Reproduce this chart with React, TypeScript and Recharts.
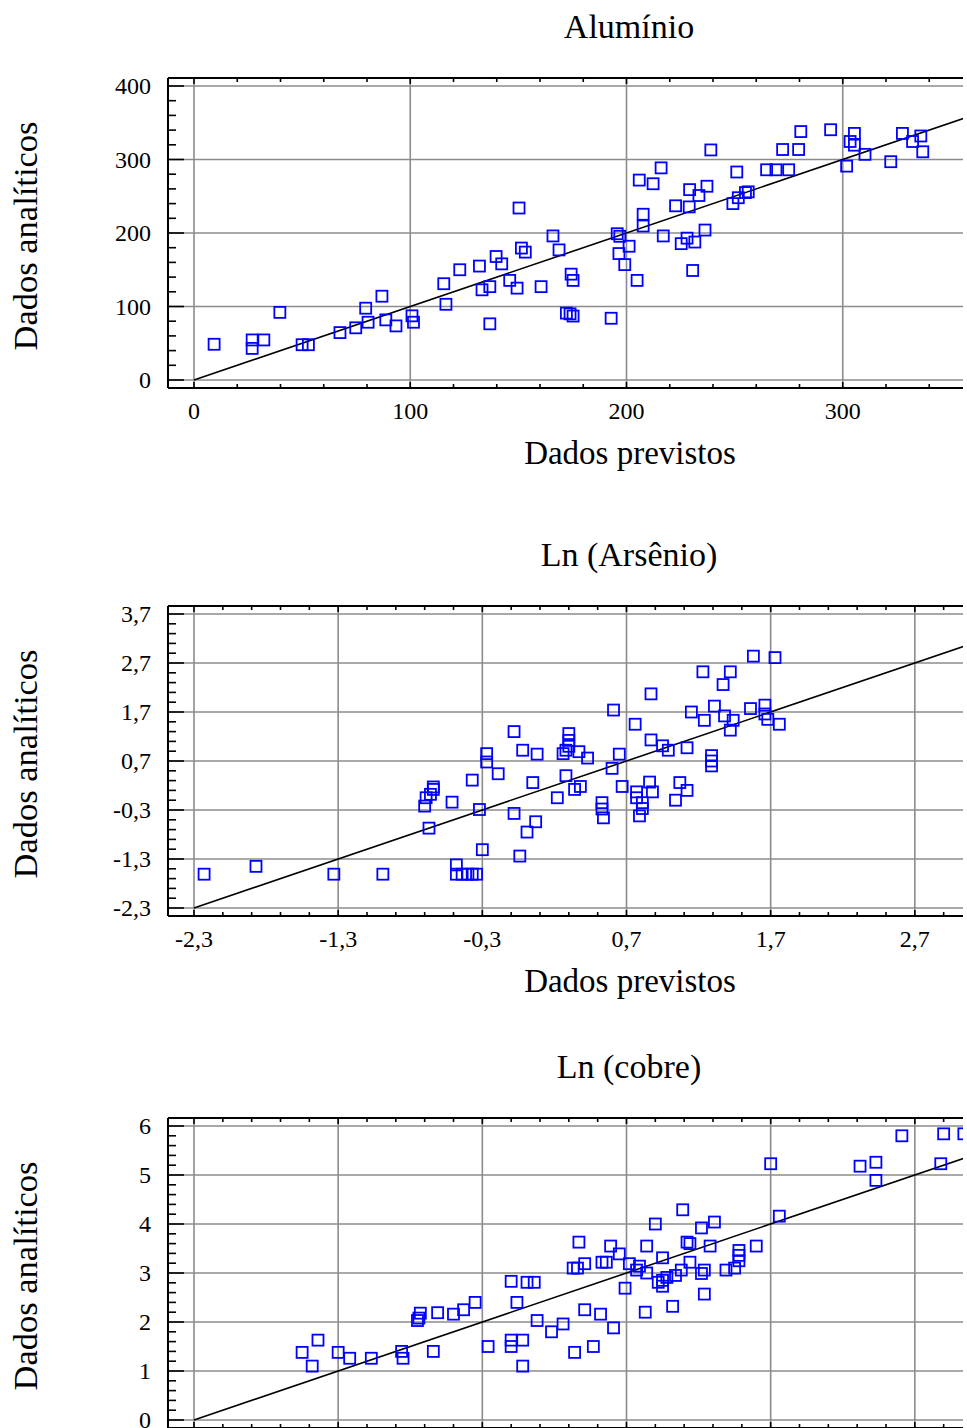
import React from "react"
import { ScatterChart, Scatter, XAxis, YAxis, CartesianGrid, ReferenceLine } from "recharts"

// [previsto, analítico]
const aluminio: [number, number][] = [
  [9.3, 48.6], [26.9, 54.5], [26.9, 43], [32.3, 54.5], [39.7, 92], [50, 48], [52.9, 48],
  [67.5, 64.5], [74.8, 71], [79.4, 97.7], [80.5, 78.6], [86.9, 114], [88.7, 81.8], [93.4, 73.6],
  [100.8, 87.3], [101.5, 78.6], [115.5, 131], [116.5, 103], [122.9, 150], [132, 155], [133.2, 122.7],
  [136.8, 127], [136.8, 76.4], [139.7, 168], [142.3, 158], [146, 135.5], [149.4, 125], [150.3, 234],
  [151.4, 179.5], [153.2, 174], [160.5, 127], [166, 196], [168.8, 177], [174.4, 144], [175.3, 135.5],
  [172.2, 91], [173.9, 90], [175.3, 87], [192.9, 84], [195.7, 199], [196.9, 195.5], [196.5, 172],
  [199.2, 157], [201.2, 182], [204.9, 135.5], [207.7, 225.5], [207.7, 209.5], [205.9, 272], [212.3, 267],
  [216, 288.6], [217, 196], [222.7, 237], [225.3, 185.5], [228, 193], [229, 235.5], [229.2, 259],
  [231.6, 187.7], [233.5, 251], [236.3, 204], [237.2, 263.6], [239, 313], [230.6, 149], [249.2, 240],
  [251.7, 248], [255, 255], [256.3, 256], [251, 283], [264.8, 286], [269.1, 286], [275, 286],
  [272.2, 313.6], [279.6, 313.6], [280.6, 338], [294.4, 340.5], [301.8, 291], [303.4, 324.5],
  [305.4, 335.5], [305.4, 319.5], [310.3, 307], [322.2, 297], [327.6, 335.5], [332.3, 324.5],
  [336.1, 332], [337, 310.5],
]

const arsenio: [number, number][] = [
  [-2.23, -1.61], [-1.87, -1.45], [-1.33, -1.61], [-0.99, -1.61], [-0.7, -0.22], [-0.69, -0.05],
  [-0.66, 0.02], [-0.64, 0.17], [-0.64, 0.12], [-0.67, -0.67], [-0.51, -0.14], [-0.48, -1.42],
  [-0.48, -1.61], [-0.44, -1.61], [-0.4, -1.61], [-0.37, -1.61], [-0.34, -1.61], [-0.37, 0.31],
  [-0.32, -0.29], [-0.3, -1.11], [-0.27, 0.85], [-0.27, 0.68], [-0.19, 0.44], [-0.08, 1.3],
  [-0.08, -0.37], [-0.04, -1.24], [-0.02, 0.92], [0.08, 0.84], [0.05, 0.26], [0.07, -0.54],
  [0.01, -0.75], [0.22, -0.05], [0.26, 0.85], [0.28, 0.92], [0.3, 1.0], [0.3, 1.12], [0.3, 1.26],
  [0.28, 0.4], [0.34, 0.12], [0.38, 0.18], [0.37, 0.89], [0.43, 0.76], [0.53, -0.15], [0.53, -0.28],
  [0.54, -0.46], [0.6, 0.55], [0.61, 1.74], [0.65, 0.84], [0.67, 0.18], [0.76, 1.45], [0.77, 0.07],
  [0.77, -0.05], [0.81, -0.15], [0.81, -0.27], [0.79, -0.42], [0.86, 0.27], [0.88, 0.07], [0.87, 2.07],
  [0.87, 1.13], [0.95, 1.01], [0.99, 0.92], [1.04, -0.1], [1.07, 0.26], [1.12, 0.1], [1.12, 0.97],
  [1.15, 1.7], [1.23, 2.52], [1.24, 1.53], [1.29, 0.81], [1.29, 0.7], [1.29, 0.6], [1.31, 1.82],
  [1.37, 2.26], [1.38, 1.62], [1.42, 2.52], [1.42, 1.33], [1.44, 1.53], [1.56, 1.77], [1.58, 2.84],
  [1.66, 1.84], [1.66, 1.66], [1.68, 1.55], [1.73, 2.81], [1.76, 1.45],
]

const cobre: [number, number][] = [
  [0.75, 1.38], [0.82, 1.1], [0.86, 1.63], [1.0, 1.38], [1.08, 1.26], [1.23, 1.26], [1.44, 1.4],
  [1.45, 1.26], [1.66, 1.4], [1.55, 2.03], [1.56, 2.08], [1.57, 2.18], [1.69, 2.19], [1.8, 2.16],
  [1.87, 2.25], [1.95, 2.4], [2.04, 1.5], [2.2, 1.63], [2.2, 1.5], [2.2, 2.83], [2.24, 2.4],
  [2.31, 2.81], [2.36, 2.81], [2.38, 2.03], [2.48, 1.8], [2.56, 1.96], [2.28, 1.63], [2.28, 1.1],
  [2.64, 1.38], [2.77, 1.5], [2.71, 2.25], [2.82, 2.16], [2.91, 1.88], [2.67, 3.63], [2.63, 3.1],
  [2.66, 3.1], [2.71, 3.19], [2.83, 3.22], [2.86, 3.22], [2.89, 3.55], [2.95, 3.39], [2.99, 2.69],
  [3.02, 3.19], [3.07, 3.06], [3.09, 3.14], [3.14, 3.55], [3.13, 2.2], [3.14, 3.0], [3.2, 4.0],
  [3.25, 3.31], [3.22, 2.81], [3.25, 2.85], [3.25, 2.73], [3.28, 2.91], [3.34, 2.95], [3.32, 2.32],
  [3.38, 3.06], [3.39, 4.29], [3.42, 3.63], [3.44, 3.6], [3.44, 3.22], [3.52, 3.92], [3.52, 2.99],
  [3.54, 3.06], [3.54, 2.57], [3.58, 3.55], [3.61, 4.04], [3.69, 3.06], [3.75, 3.1], [3.78, 3.46],
  [3.78, 3.36], [3.78, 3.25], [3.9, 3.55], [4.0, 5.23], [4.06, 4.16], [4.62, 5.18], [4.73, 5.26],
  [4.73, 4.89], [4.91, 5.8], [5.18, 5.23], [5.2, 5.84], [5.34, 5.84],
]

// gridlines (same on both axes)
const aluminioTicks = [0, 100, 200, 300, 400]
const arsenioTicks = [-2.3, -1.3, -0.3, 0.7, 1.7, 2.7, 3.7]
const cobreTicks = [0, 1, 2, 3, 4, 5, 6]

// x tick labels visible in the cropped picture
const aluminioXLabels = [0, 100, 200, 300]
const arsenioXLabels = [-2.3, -1.3, -0.3, 0.7, 1.7, 2.7]
const cobreXLabels: number[] = [] // below the bottom edge

const FONT = "'Liberation Serif', 'Times New Roman', serif"
const GRID = "#8c8c8c"
const BLUE = "#0000ff"

function minorTicks(start: number, end: number, step: number) {
  const out: number[] = []
  const n = Math.round((end - start) / step)
  for (let i = 0; i <= n; i++) out.push(Math.round((start + i * step) * 1000) / 1000)
  return out
}

const isIn = (v: number, list: number[]) => list.some((m) => Math.abs(m - v) < 1e-6)

function Square(props: any) {
  const { cx, cy } = props
  if (cx == null || cy == null) return null
  return <rect x={cx - 5.5} y={cy - 5.5} width={11} height={11} fill="none" stroke={BLUE} strokeWidth={1.8} />
}

type PanelProps = {
  data: [number, number][]
  majors: number[]
  xLabels: number[]
  step: number
  fmt: (v: number) => string
  top: number
}

function Panel({ data, majors, xLabels, step, fmt, top }: PanelProps) {
  const lo = majors[0]
  const hi = majors[majors.length - 1]
  const minors = minorTicks(lo, hi, step)
  const points = data.map(([x, y]) => ({ x, y }))

  const leftTick = (p: any) => {
    const major = isIn(p.payload.value, majors)
    return (
      <g>
        <line x1={p.x} x2={p.x + (major ? 16 : 8)} y1={p.y} y2={p.y} stroke="#000" strokeWidth={1.6} />
        {major && (
          <text x={p.x - 17} y={p.y + 8} textAnchor="end" fontSize={24} fontFamily={FONT} fill="#000">
            {fmt(p.payload.value)}
          </text>
        )}
      </g>
    )
  }
  const bottomTick = (p: any) => {
    const major = isIn(p.payload.value, majors)
    return (
      <g>
        <line x1={p.x} x2={p.x} y1={p.y} y2={p.y - (major ? 6 : 4)} stroke="#000" strokeWidth={1.6} />
        {isIn(p.payload.value, xLabels) && (
          <text x={p.x} y={p.y + 31} textAnchor="middle" fontSize={24} fontFamily={FONT} fill="#000">
            {fmt(p.payload.value)}
          </text>
        )}
      </g>
    )
  }
  const topTick = (p: any) => {
    const major = isIn(p.payload.value, majors)
    return <line x1={p.x} x2={p.x} y1={p.y} y2={p.y + (major ? 6 : 4)} stroke="#000" strokeWidth={1.6} />
  }

  return (
    <div style={{ position: "absolute", left: 0, top }}>
      <ScatterChart width={1100} height={380} margin={{ top: 0, right: 15, bottom: 0, left: 0 }}>
        <CartesianGrid stroke={GRID} strokeWidth={1.6} horizontalValues={majors} verticalValues={majors} />
        <XAxis
          type="number"
          dataKey="x"
          domain={[lo, hi]}
          padding={{ left: 26, right: 26 }}
          ticks={minors}
          interval={0}
          height={60}
          tickSize={0}
          tickMargin={0}
          tickLine={false}
          axisLine={{ stroke: "#000", strokeWidth: 2 }}
          tick={bottomTick}
          allowDataOverflow
        />
        <XAxis
          xAxisId="top"
          orientation="top"
          type="number"
          dataKey="x"
          domain={[lo, hi]}
          padding={{ left: 26, right: 26 }}
          ticks={minors}
          interval={0}
          height={10}
          tickSize={0}
          tickMargin={0}
          tickLine={false}
          axisLine={{ stroke: "#000", strokeWidth: 2 }}
          tick={topTick}
          allowDataOverflow
        />
        <YAxis
          type="number"
          dataKey="y"
          domain={[lo, hi]}
          padding={{ top: 8, bottom: 8 }}
          ticks={minors}
          interval={0}
          width={168}
          tickSize={0}
          tickMargin={0}
          tickLine={false}
          axisLine={{ stroke: "#000", strokeWidth: 2 }}
          tick={leftTick}
          allowDataOverflow
        />
        <ReferenceLine segment={[{ x: lo, y: lo }, { x: hi, y: hi }]} stroke="#000" strokeWidth={1.6} />
        <Scatter data={points} shape={Square} isAnimationActive={false} />
      </ScatterChart>
    </div>
  )
}

const comma = (v: number) => v.toFixed(1).replace(".", ",")
const plain = (v: number) => String(v)

export default function App() {
  const panels = [
    { title: "Alumínio", data: aluminio, majors: aluminioTicks, xLabels: aluminioXLabels, step: 20, fmt: plain, frame: 78 },
    { title: "Ln (Arsênio)", data: arsenio, majors: arsenioTicks, xLabels: arsenioXLabels, step: 0.2, fmt: comma, frame: 606 },
    { title: "Ln (cobre)", data: cobre, majors: cobreTicks, xLabels: cobreXLabels, step: 0.2, fmt: plain, frame: 1118 },
  ]
  return (
    <div style={{ position: "absolute", left: 0, top: 0, width: 963, height: 1428, overflow: "hidden", background: "#fff" }}>
      {panels.map((p) => (
        <Panel key={p.title} data={p.data} majors={p.majors} xLabels={p.xLabels} step={p.step} fmt={p.fmt} top={p.frame - 10} />
      ))}
      <svg width={963} height={1428} style={{ position: "absolute", left: 0, top: 0, pointerEvents: "none" }}>
        {panels.map((p) => (
          <g key={p.title} fontFamily={FONT} fill="#000">
            <text x={629} y={p.frame - 40} textAnchor="middle" fontSize={34}>{p.title}</text>
            <text x={630} y={p.frame + 386} textAnchor="middle" fontSize={33}>Dados previstos</text>
            <text x={0} y={0} textAnchor="middle" fontSize={34.5} transform={`translate(37, ${p.frame + 158}) rotate(-90)`}>
              Dados analíticos
            </text>
          </g>
        ))}
      </svg>
    </div>
  )
}
